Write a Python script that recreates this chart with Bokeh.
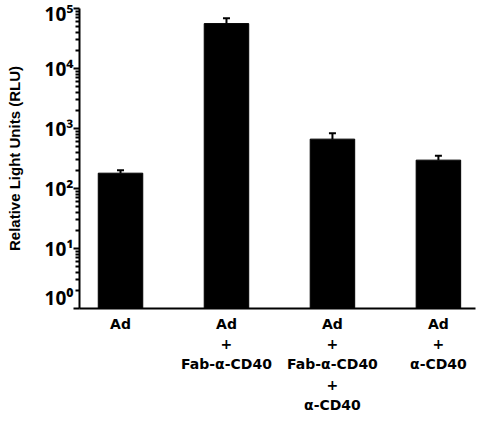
import math
from bokeh.plotting import figure
from bokeh.layouts import row, column
from bokeh.models import Range1d, FixedTicker, Whisker, ColumnDataSource, TeeHead
from bokeh.embed import file_html
from bokeh.resources import INLINE

categories = ["Ad", "Ad\n+\nFab-α-CD40", "Ad\n+\nFab-α-CD40\n+\nα-CD40", "Ad\n+\nα-CD40"]
rlu = [180, 56000, 665, 297]
err = [22, 13000, 170, 55]
xpos = [1, 2, 3, 4]
decades = [1, 10, 100, 1000, 10000, 100000]
ytick_labels = ["10⁰", "10¹", "10²", "10³", "10⁴", "10⁵"]
y_title = ["Relative Light Units (RLU)"]

minor = [d * k for d in decades[:-1] for k in range(2, 10)]
src = ColumnDataSource(dict(x=xpos, top=rlu, upper=[v + e for v, e in zip(rlu, err)],
                            base=[decades[0]] * len(xpos)))
lab_src = ColumnDataSource(dict(x=xpos, y=[0] * len(xpos), label=categories))

xr = Range1d(0.613, 4.35)

# left title strip
tfig = figure(output_backend="svg", toolbar_location=None, width=31, height=413,
              x_range=Range1d(-14, 17), y_range=Range1d(-255, 158),
              min_border_left=0, min_border_right=0, min_border_top=0, min_border_bottom=0)
tfig.axis.visible = False
tfig.grid.visible = False
tfig.outline_line_color = None
tfig.text(x=[0], y=[0], text=y_title, angle=math.pi / 2, text_align="center", text_baseline="middle",
          text_font={"value": "Liberation Sans"}, text_font_style="bold", text_font_size="15px",
          text_color="black")

# main plot
p = figure(output_backend="svg", toolbar_location=None, y_axis_type="log",
           x_range=xr, y_range=Range1d(decades[0], decades[-1]),
           width=446, height=310,
           min_border_left=48, min_border_right=2, min_border_top=8, min_border_bottom=2)
p.grid.visible = False
p.outline_line_color = None
p.background_fill_color = "white"

p.vbar(x="x", top="top", bottom="base", width=0.42, source=src, fill_color="black", line_color="black")
w = Whisker(base="x", lower="top", upper="upper", source=src, line_color="black", line_width=2,
            upper_head=TeeHead(size=7, line_color="black", line_width=2), lower_head=None)
p.add_layout(w)

xa = p.xaxis[0]
xa.ticker = FixedTicker(ticks=[])
xa.major_tick_line_color = None
xa.minor_tick_line_color = None
xa.axis_line_width = 2
xa.axis_line_color = "black"
xa.major_label_text_font_size = "0px"
xa.major_label_standoff = 0
xa.major_tick_out = 0
xa.minor_tick_out = 0

ya = p.yaxis[0]
ya.ticker = FixedTicker(ticks=decades, minor_ticks=minor)
ya.major_label_overrides = dict(zip(decades, ytick_labels))
ya.axis_line_width = 2
ya.axis_line_color = "black"
ya.major_tick_out = 6
ya.major_tick_in = 0
ya.minor_tick_out = 4
ya.minor_tick_in = 0
ya.major_tick_line_width = 2
ya.major_tick_line_color = "black"
ya.minor_tick_line_width = 2
ya.minor_tick_line_color = "black"
ya.major_label_text_font = "Open Sans"
ya.major_label_text_font_style = "bold"
ya.major_label_text_font_size = "19px"
ya.major_label_text_color = "black"
ya.major_label_standoff = 0

# category labels strip
p2 = figure(output_backend="svg", toolbar_location=None, width=446, height=103,
            x_range=xr, y_range=Range1d(-98, 5),
            min_border_left=48, min_border_right=2, min_border_top=0, min_border_bottom=0)
p2.axis.visible = False
p2.grid.visible = False
p2.outline_line_color = None
p2.text(x="x", y="y", text="label", source=lab_src, text_align="center", text_baseline="top",
        text_font={"value": "DejaVu Sans"}, text_font_style="bold", text_font_size="14px",
        text_color="black", text_line_height=1.28)

layout = row(tfig, column(p, p2, spacing=0), spacing=0)
open("out.html", "w").write(file_html(layout, INLINE))
